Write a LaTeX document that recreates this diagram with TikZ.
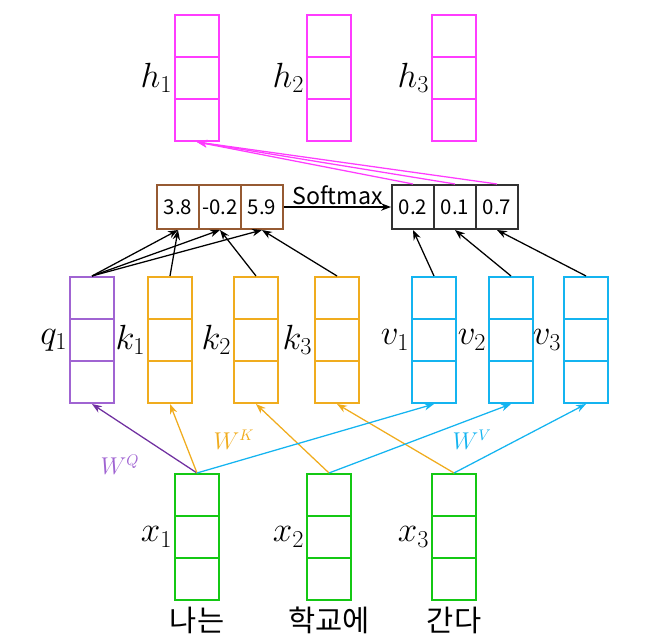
\documentclass[tikz,border=0pt]{standalone}
\usepackage{fontspec}
\usepackage{amsmath}
\usetikzlibrary{arrows.meta, positioning}
\newfontfamily\kfont{Noto Sans CJK KR}
\definecolor{qbox}{RGB}{160,100,210}
\definecolor{qline}{RGB}{112,48,160}
\definecolor{kcol}{RGB}{240,172,30}
\definecolor{vcol}{RGB}{20,180,240}
\definecolor{xcol}{RGB}{20,200,20}
\definecolor{hcol}{RGB}{255,60,255}
\definecolor{scol}{RGB}{150,90,50}
\definecolor{pcol}{RGB}{50,50,50}

\begin{document}
\begin{tikzpicture}[x=0.025cm, y=-0.025cm, >=Stealth,
		vec/.style={rectangle, draw=#1, line width=0.05cm, minimum width=1.1cm, minimum height=3.15cm, inner sep=0pt,
			path picture={\draw[#1, line width=0.05cm] ([yshift=1.05cm]path picture bounding box.south west) -- ([yshift=1.05cm]path picture bounding box.south east)
				([yshift=2.1cm]path picture bounding box.south west) -- ([yshift=2.1cm]path picture bounding box.south east);}},
		cell/.style={rectangle, draw=#1, line width=0.05cm, minimum width=1.05cm, minimum height=1.1cm, inner sep=0pt, font=\kfont\fontsize{14.5}{16}\selectfont},
		lab/.style={inner sep=1pt, font=\fontsize{23}{26}\selectfont},
		wlab/.style={font=\fontsize{16}{18}\selectfont},
		word/.style={font=\kfont\fontsize{21}{24}\selectfont}]
	
	\useasboundingbox (0,0) rectangle (660,638);
	
	% h
	\node[vec=hcol] (h1) at (197, 78) {};
	\node[vec=hcol] (h2) at (329, 78) {};
	\node[vec=hcol] (h3) at (454, 78) {};
	\node[lab, left=0pt of h1] (lh1) {$h_1$};
	\node[lab, left=0pt of h2] (lh2) {$h_2$};
	\node[lab, left=0pt of h3] (lh3) {$h_3$};
	
	% scores
	\node[cell=scol] (s1) at (178, 207) {3.8};
	\node[cell=scol] (s2) at (220, 207) {-0.2};
	\node[cell=scol] (s3) at (262, 207) {5.9};
	
	% softmax
	\node[cell=pcol] (p1) at (413, 207) {0.2};
	\node[cell=pcol] (p2) at (455, 207) {0.1};
	\node[cell=pcol] (p3) at (497, 207) {0.7};
	
	% q, k, v
	\node[vec=qbox] (q1) at (92, 340) {};
	\node[vec=kcol] (k1) at (170, 340) {};
	\node[vec=kcol] (k2) at (256, 340) {};
	\node[vec=kcol] (k3) at (337, 340) {};
	\node[vec=vcol] (v1) at (434, 340) {};
	\node[vec=vcol] (v2) at (511, 340) {};
	\node[vec=vcol] (v3) at (586, 340) {};
	\node[lab, left=0pt of q1] (lq1) {$q_1$};
	\node[lab, left=0pt of k1] (lk1) {$k_1$};
	\node[lab, left=0pt of k2] (lk2) {$k_2$};
	\node[lab, left=0pt of k3] (lk3) {$k_3$};
	\node[lab, left=0pt of v1] (lv1) {$v_1$};
	\node[lab, left=0pt of v2] (lv2) {$v_2$};
	\node[lab, left=0pt of v3] (lv3) {$v_3$};
	
	% x
	\node[vec=xcol] (x1) at (197, 537) {};
	\node[vec=xcol] (x2) at (329, 537) {};
	\node[vec=xcol] (x3) at (454, 537) {};
	\node[lab, left=0pt of x1] (lx1) {$x_1$};
	\node[lab, left=0pt of x2] (lx2) {$x_2$};
	\node[lab, left=0pt of x3] (lx3) {$x_3$};
	\node[word] (w1) at (197, 620) {나는};
	\node[word] (w2) at (329, 620) {학교에};
	\node[word] (w3) at (454, 620) {간다};
	
	% W
	\node[wlab, text=qbox] (wq) at (120, 465) {$W^Q$};
	\node[wlab, text=kcol] (wk) at (234, 440) {$W^K$};
	\node[wlab, text=vcol] (wv) at (472, 440) {$W^V$};
	
	% x -> q, k, v
	\draw[->, qline, line width=0.9pt] (x1.north) -- (q1.south);
	\draw[->, kcol, line width=0.9pt] (x1.north) -- (k1.south);
	\draw[->, kcol, line width=0.9pt] (x2.north) -- (k2.south);
	\draw[->, kcol, line width=0.9pt] (x3.north) -- (k3.south);
	\draw[->, vcol, line width=0.9pt] (x1.north) -- (v1.south);
	\draw[->, vcol, line width=0.9pt] (x2.north) -- (v2.south);
	\draw[->, vcol, line width=0.9pt] (x3.north) -- (v3.south);
	
	% q, k -> scores
	\draw[->, line width=0.9pt] (q1.north) -- (s1.south);
	\draw[->, line width=0.9pt] (q1.north) -- (s2.south);
	\draw[->, line width=0.9pt] (q1.north) -- (s3.south);
	\draw[->, line width=0.9pt] (k1.north) -- (s1.south);
	\draw[->, line width=0.9pt] (k2.north) -- (s2.south);
	\draw[->, line width=0.9pt] (k3.north) -- (s3.south);
	
	% v -> softmax
	\draw[->, line width=0.9pt] (v1.north) -- (p1.south);
	\draw[->, line width=0.9pt] (v2.north) -- (p2.south);
	\draw[->, line width=0.9pt] (v3.north) -- (p3.south);
	
	\draw[->, line width=0.9pt] (s3) -- node[above, inner sep=1pt, font=\kfont\fontsize{16.5}{18}\selectfont] {Softmax} (p1);
	
	% softmax -> h1
	\draw[->, hcol, line width=0.9pt] (p1.north) -- (h1.south);
	\draw[->, hcol, line width=0.9pt] (p2.north) -- (h1.south);
	\draw[->, hcol, line width=0.9pt] (p3.north) -- (h1.south);
	
\end{tikzpicture}
\end{document}
